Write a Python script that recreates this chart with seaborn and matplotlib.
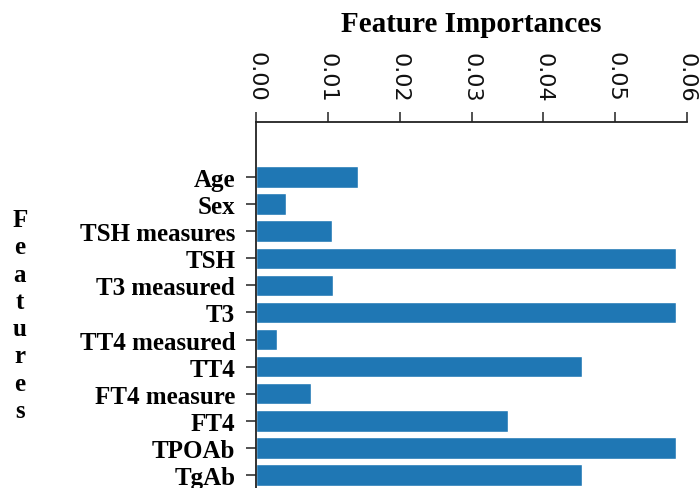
import matplotlib
matplotlib.use("Agg")
import matplotlib.pyplot as plt
import seaborn as sns
import pandas as pd

features = ["Age", "Sex", "TSH measures", "TSH", "T3 measured", "T3",
            "TT4 measured", "TT4", "FT4 measure", "FT4", "TPOAb", "TgAb"]
importances = [0.0142, 0.0042, 0.0106, 0.0584, 0.0107, 0.0585,
               0.0029, 0.0454, 0.0077, 0.0351, 0.0584, 0.0454]
xticks = [0.00, 0.01, 0.02, 0.03, 0.04, 0.05, 0.06]
xtick_labels = ["0.00", "0.01", "0.02", "0.03", "0.04", "0.05", "0.06"]

sns.set_style("white")
plt.rcParams['font.family'] = ['DejaVu Sans']

df = pd.DataFrame({"Feature": features, "Importance": importances})

fig = plt.figure(figsize=(6.99, 4.89), dpi=100)
ax = fig.add_axes([256/699, 0.0, (687-256)/699, 1 - 123/489])

sns.barplot(data=df, x="Importance", y="Feature", orient="h",
            color="#1f77b4", saturation=1, width=0.79, ax=ax)

ax.set_xlim(0, 0.06)
ax.set_ylim(11.48, -2.03)

ax.xaxis.tick_top()
ax.set_xticks(xticks)
ax.set_xticklabels(xtick_labels, rotation=-90, fontsize=16,
                   family="DejaVu Sans", color="#111111")
ax.tick_params(axis="x", which="major", direction="out", length=7, width=1.2,
               color="#333333", pad=8, top=True, bottom=False)
ax.tick_params(axis="y", which="major", direction="out", length=7, width=1.2,
               color="#333333", pad=8, left=True)
for lbl in ax.get_yticklabels():
    lbl.set_family("Liberation Serif")
    lbl.set_fontweight("bold")
    lbl.set_fontsize(18)
    lbl.set_color("black")

ax.set_xlabel("")
ax.set_ylabel("")
for side in ["right", "bottom"]:
    ax.spines[side].set_visible(False)
for side in ["top", "left"]:
    ax.spines[side].set_visible(True)
    ax.spines[side].set_color("#222222")
    ax.spines[side].set_linewidth(1.3)

fig.text(471/699, 1 - 25/489, "Feature Importances", ha="center", va="center",
         family="Liberation Serif", fontweight="bold", fontsize=21,
         color="black")
fig.text(20/699, 1 - 316/489, "F\ne\na\nt\nu\nr\ne\ns", ha="center", va="center",
         family="Liberation Serif", fontweight="bold", fontsize=18,
         linespacing=1.24, color="black")

fig.savefig("out.png", dpi=100)
